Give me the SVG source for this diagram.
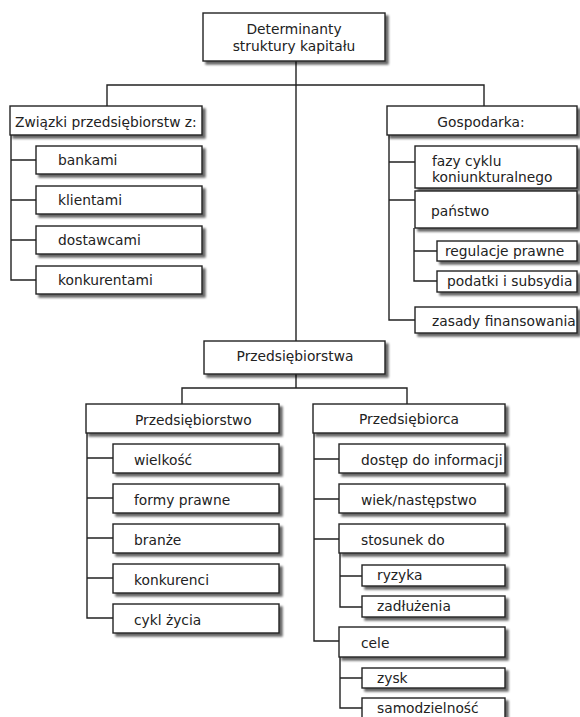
<svg xmlns="http://www.w3.org/2000/svg" width="580" height="717" viewBox="0 0 580 717">
<defs>
<filter id="sh" x="-10%" y="-20%" width="130%" height="160%">
<feGaussianBlur in="SourceAlpha" stdDeviation="1.3"/>
<feOffset dx="3" dy="3" result="b"/>
<feComponentTransfer><feFuncA type="linear" slope="0.6"/></feComponentTransfer>
<feMerge><feMergeNode/><feMergeNode in="SourceGraphic"/></feMerge>
</filter>
</defs>
<style>
.b{fill:#fff;stroke:#222;stroke-width:1.4;filter:url(#sh)}
.t{font-family:"DejaVu Sans","Liberation Sans",sans-serif;font-size:13.8px;fill:#222}
.c{text-anchor:middle}
.ln{fill:none;stroke:#222;stroke-width:1.4}
</style>
<rect width="580" height="717" fill="#fff"/>
<g id="connectors" class="ln">
<path d="M296,61V341M107,106V85H484V106"/>
<path d="M11,135V280H36M11,160H36M11,200H36M11,240H36"/>
<path d="M389,135V320H415M389,162H415M389,200H415"/>
<path d="M414,228V281H437M414,251H437"/>
<path d="M296,374V388M182,404V388H407V404"/>
<path d="M87,433V618H113M87,458H113M87,498H113M87,538H113M87,578H113"/>
<path d="M314,433V641H339M314,459H339M314,499H339M314,539H339"/>
<path d="M340,553V607H362M340,576H362"/>
<path d="M340,657V708H362M340,678H362"/>
</g>
<g id="n-top"><rect class="b" x="203" y="13" width="182" height="48"/><text class="t c" x="294" y="34">Determinanty</text><text class="t c" x="294" y="51">struktury kapitału</text></g>
<g id="n-zwiazki"><rect class="b" x="10" y="106" width="192" height="29"/><text class="t" x="15" y="127">Związki przedsiębiorstw z:</text></g>
<g id="n-bankami"><rect class="b" x="36" y="146" width="166" height="28"/><text class="t" x="58" y="165">bankami</text></g>
<g id="n-klientami"><rect class="b" x="36" y="186" width="166" height="28"/><text class="t" x="58" y="205">klientami</text></g>
<g id="n-dostawcami"><rect class="b" x="36" y="226" width="166" height="28"/><text class="t" x="58" y="245">dostawcami</text></g>
<g id="n-konkurentami"><rect class="b" x="36" y="266" width="166" height="28"/><text class="t" x="58" y="285">konkurentami</text></g>
<g id="n-gospodarka"><rect class="b" x="387" y="106" width="190" height="29"/><text class="t c" x="481" y="127">Gospodarka:</text></g>
<g id="n-fazy"><rect class="b" x="415" y="146" width="162" height="42"/><text class="t" x="432" y="166">fazy cyklu</text><text class="t" x="432" y="182">koniunkturalnego</text></g>
<g id="n-panstwo"><rect class="b" x="415" y="191" width="162" height="37"/><text class="t" x="431" y="216">państwo</text></g>
<g id="n-regulacje"><rect class="b" x="437" y="241" width="140" height="20"/><text class="t" x="445" y="256">regulacje prawne</text></g>
<g id="n-podatki"><rect class="b" x="437" y="271" width="140" height="21"/><text class="t" x="447" y="286">podatki i subsydia</text></g>
<g id="n-zasady"><rect class="b" x="415" y="307" width="162" height="26"/><text class="t" x="432" y="326">zasady finansowania</text></g>
<g id="n-przedsiebiorstwa"><rect class="b" x="204" y="341" width="181" height="33"/><text class="t c" x="295" y="361">Przedsiębiorstwa</text></g>
<g id="n-przedsiebiorstwo"><rect class="b" x="86" y="404" width="193" height="29"/><text class="t" x="135" y="425">Przedsiębiorstwo</text></g>
<g id="n-wielkosc"><rect class="b" x="113" y="444" width="166" height="29"/><text class="t" x="134" y="465">wielkość</text></g>
<g id="n-formy"><rect class="b" x="113" y="484" width="166" height="29"/><text class="t" x="134" y="505">formy prawne</text></g>
<g id="n-branze"><rect class="b" x="113" y="524" width="166" height="29"/><text class="t" x="134" y="545">branże</text></g>
<g id="n-konkurenci"><rect class="b" x="113" y="564" width="166" height="29"/><text class="t" x="134" y="585">konkurenci</text></g>
<g id="n-cykl"><rect class="b" x="113" y="604" width="166" height="29"/><text class="t" x="134" y="625">cykl życia</text></g>
<g id="n-przedsiebiorca"><rect class="b" x="313" y="404" width="192" height="29"/><text class="t c" x="409" y="424">Przedsiębiorca</text></g>
<g id="n-dostep"><rect class="b" x="339" y="444" width="166" height="29"/><text class="t" x="361" y="465">dostęp do informacji</text></g>
<g id="n-wiek"><rect class="b" x="339" y="484" width="166" height="29"/><text class="t" x="361" y="505">wiek/następstwo</text></g>
<g id="n-stosunek"><rect class="b" x="339" y="524" width="166" height="29"/><text class="t" x="361" y="545">stosunek do</text></g>
<g id="n-ryzyka"><rect class="b" x="362" y="565" width="143" height="21"/><text class="t" x="377" y="580">ryzyka</text></g>
<g id="n-zadluzenia"><rect class="b" x="362" y="596" width="143" height="21"/><text class="t" x="377" y="611">zadłużenia</text></g>
<g id="n-cele"><rect class="b" x="339" y="627" width="166" height="30"/><text class="t" x="361" y="648">cele</text></g>
<g id="n-zysk"><rect class="b" x="362" y="668" width="143" height="20"/><text class="t" x="377" y="683">zysk</text></g>
<g id="n-samodzielnosc"><rect class="b" x="362" y="698" width="143" height="22"/><text class="t" x="377" y="713">samodzielność</text></g>
</svg>
